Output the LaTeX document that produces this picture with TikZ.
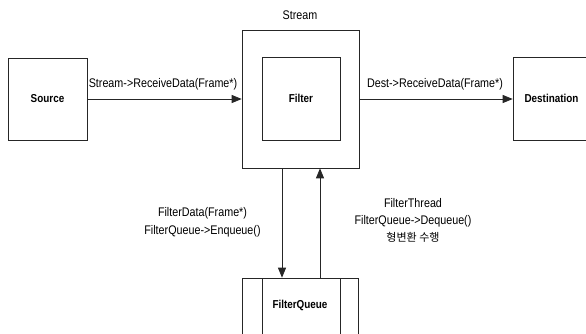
\documentclass[tikz,border=0pt]{standalone}
\usepackage{fontspec}
\setmainfont{Liberation Sans}[FakeStretch=0.86]
\newfontfamily\kr{Noto Sans CJK KR}
\usetikzlibrary{arrows.meta}
\begin{document}
\begin{tikzpicture}[x=1pt,y=-1pt,
  box/.style={draw=black!85,line width=0.6pt,minimum width=#1,inner sep=0pt},
  lbl/.style={font=\fontsize{12.5}{17}\selectfont,inner sep=0pt,align=center},
  blbl/.style={font=\fontsize{11.5}{13}\selectfont\bfseries,inner sep=0pt},
  arr/.style={draw=black!85,line width=0.8pt,-{Triangle[length=10pt,width=8pt]}}]
\useasboundingbox (0,0) rectangle (586,333);
\clip (0,0) rectangle (586,333);
\node[box=79pt,minimum height=82pt] (src) at (47.5,99) {};
\node[blbl] at (src.center) {Source};
\node[box=117pt,minimum height=138pt] (stream) at (300.5,99) {};
\node[lbl] (streamlbl) at (300,15) {Stream};
\node[box=78pt,minimum height=83pt] (filter) at (301,98.5) {};
\node[blbl] at (filter.center) {Filter};
\node[box=77pt,minimum height=83pt] (dest) at (551.5,98.5) {};
\node[blbl] at (dest.center) {Destination};
\node[box=116pt,minimum height=62pt] (fq) at (300,309) {};
\node[blbl] at (300,305) {FilterQueue};
\coordinate (fqa) at (262,278);
\coordinate (fqb) at (340,278);
\draw[black!85,line width=0.6pt] (fqa) -- (fqa |- fq.south);
\draw[black!85,line width=0.6pt] (fqb) -- (fqb |- fq.south);
\draw[arr] (src.east |- 0,99) -- (stream.west |- 0,99);
\node[lbl] (l1) at (163,84) {Stream->ReceiveData(Frame*)};
\draw[arr] (stream.east |- 0,99) -- (dest.west |- 0,99);
\node[lbl] (l2) at (435,84) {Dest->ReceiveData(Frame*)};
\coordinate (dx) at (282,0);
\coordinate (ux) at (320,0);
\draw[arr] (dx |- stream.south) -- (dx |- fq.north);
\draw[arr] (ux |- fq.north) -- (ux |- stream.south);
\node[lbl] (l3) at (202.5,222) {FilterData(Frame*)\\[1pt]FilterQueue->Enqueue()};
\node[lbl] (l4) at (413,220) {FilterThread\\FilterQueue->Dequeue()\\{\kr\fontsize{11}{12}\selectfont 형변환 수행}};
\end{tikzpicture}
\end{document}
